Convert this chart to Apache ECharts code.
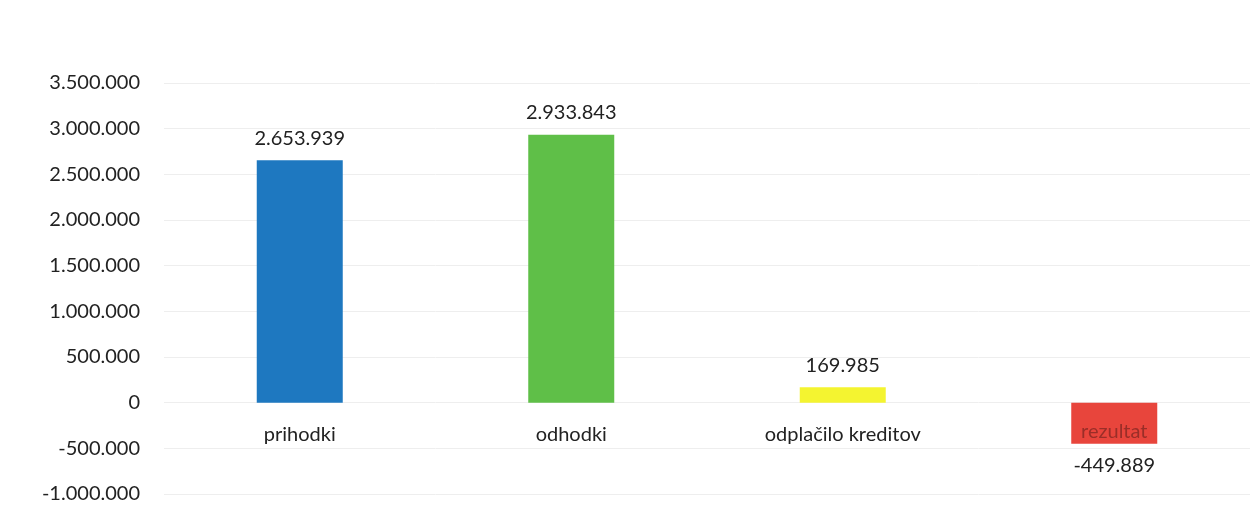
<!DOCTYPE html>
<html><head><meta charset="utf-8">
<script src="https://cdn.jsdelivr.net/npm/echarts@6/dist/echarts.min.js"></script>
<style>html,body{margin:0;padding:0;background:#fff}#c{width:1250px;height:506px}</style>
</head><body><div id="c"></div>
<script>
const categories = ['prihodki', 'odhodki', 'odplačilo kreditov', 'rezultat'];
const values = [2653939, 2933843, 169985, -449889];
const barColors = ['#1e78c0', '#5fbf48', '#f4f430', '#e8453c'];
const yTicks = { min: -1000000, max: 3500000, interval: 500000 };

function fmt(v) {
  const s = Math.abs(v).toString().replace(/\B(?=(\d{3})+(?!\d))/g, '.');
  return (v < 0 ? '-' : '') + s;
}

const chart = echarts.init(document.getElementById('c'));
chart.setOption({
  animation: false,
  grid: { left: 164, right: 0, top: 83, bottom: 12, containLabel: false, outerBoundsMode: 'none' },
  xAxis: {
    type: 'category',
    data: categories,
    axisLine: { show: false },
    axisTick: { show: false },
    axisLabel: { show: false }
  },
  yAxis: {
    type: 'value',
    min: yTicks.min, max: yTicks.max, interval: yTicks.interval,
    axisLine: { show: false },
    axisTick: { show: false },
    splitLine: { lineStyle: { color: '#eeeeee', width: 1 } },
    axisLabel: {
      margin: 24,
      fontFamily: 'Lato',
      fontSize: 20,
      color: '#222',
      formatter: fmt
    }
  },
  series: [{
    type: 'bar',
    barWidth: 86,
    z: 2,
    data: values.map((v, i) => ({
      value: v,
      itemStyle: { color: barColors[i] },
      label: v < 0 ? { position: 'bottom', distance: 12 } : undefined
    })),
    label: {
      show: true,
      position: 'top',
      distance: 12,
      fontFamily: 'Lato',
      fontSize: 20,
      color: '#222',
      formatter: p => fmt(p.value)
    }
  }, {
    type: 'scatter',
    z: 5,
    symbol: 'rect',
    symbolSize: 0.01,
    itemStyle: { color: '#ffffff', opacity: 1 },
    silent: true,
    emphasis: { disabled: true },
    data: categories.map(c => ({
      value: [c, 0],
      label: c === 'rezultat' ? { color: '#9a2e28', distance: 19 } : undefined
    })),
    label: {
      show: true,
      opacity: 1,
      position: 'bottom',
      distance: 22,
      fontFamily: 'Lato',
      fontSize: 20,
      formatter: p => categories[p.dataIndex],
      color: '#222'
    },
    labelLayout: { hideOverlap: false }
  }]
});
</script></body></html>
